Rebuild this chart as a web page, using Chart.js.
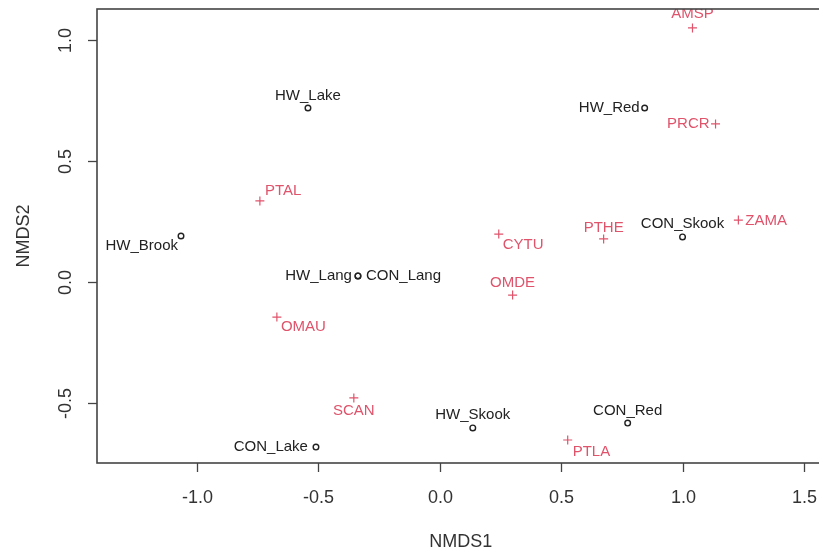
<!DOCTYPE html>
<html>
<head>
<meta charset="utf-8">
<title>NMDS ordination</title>
<script src="https://cdn.jsdelivr.net/npm/chart.js@4.4.1/dist/chart.umd.min.js"></script>
<style>
  html, body { margin: 0; padding: 0; background: #fff; overflow: hidden; }
  #wrap { position: relative; width: 830px; height: 554px; }
</style>
</head>
<body>
<div id="wrap"><canvas id="nmds"></canvas></div>
<script>
// ---------- Site scores (black "o") ----------
const siteNames = ["HW_Brook", "HW_Lake", "HW_Lang", "CON_Lang", "HW_Red", "CON_Skook", "HW_Skook", "CON_Red", "CON_Lake"];
const siteX = [-1.066, -0.543, -0.337, -0.337, 0.844, 1.000, 0.136, 0.774, -0.510];
const siteY = [0.190, 0.719, 0.025, 0.025, 0.719, 0.186, -0.603, -0.583, -0.682];

// ---------- Species scores (red "+") ----------
const speciesNames = ["AMSP", "PRCR", "PTAL", "PTHE", "ZAMA", "CYTU", "OMDE", "OMAU", "SCAN", "PTLA"];
const speciesX = [1.041, 1.136, -0.741, 0.675, 1.230, 0.243, 0.300, -0.671, -0.354, 0.527];
const speciesY = [1.050, 0.653, 0.335, 0.178, 0.256, 0.198, -0.054, -0.145, -0.479, -0.653];

// ---------- Axes ----------
const xTicks = [-1.0, -0.5, 0.0, 0.5, 1.0, 1.5];
const yTicks = [-0.5, 0.0, 0.5, 1.0];
const xTitle = "NMDS1";
const yTitle = "NMDS2";

// label placement around each point: [dx, dy, align]
const labelPlace = {
  HW_Brook: [-3, 10, "right"], HW_Lake: [0, -12, "center"], HW_Lang: [-6, 0, "right"],
  CON_Lang: [8, 0, "left"], HW_Red: [-5, 0, "right"], CON_Skook: [0, -13, "center"],
  HW_Skook: [0, -13, "center"], CON_Red: [0, -12, "center"], CON_Lake: [-8, 0, "right"],
  AMSP: [0, -14, "center"], PRCR: [-6, 0, "right"], PTAL: [5, -10, "left"],
  PTHE: [0, -11, "center"], ZAMA: [7, 1, "left"], CYTU: [4, 11, "left"],
  OMDE: [0, -12, "center"], OMAU: [4, 10, "left"], SCAN: [0, 13, "center"],
  PTLA: [5, 12, "left"],
};

const FONT = '"Liberation Sans", Arial, sans-serif';
const INK = "#222";
const PINK = "#DF536B";
const AXIS = "#444";

const toPoints = (xs, ys) => xs.map((x, i) => ({ x, y: ys[i] }));

// R-style frame, ticks, tick labels, titles and point labels
const rStyle = {
  id: "rStyle",
  afterDatasetsDraw(chart) {
    const { ctx, chartArea: a } = chart;
    ctx.save();
    ctx.beginPath();
    ctx.rect(a.left, a.top, a.right - a.left, a.bottom - a.top);
    ctx.clip();
    ctx.font = "15px " + FONT;
    ctx.textBaseline = "middle";
    chart.data.datasets.forEach((ds, di) => {
      const meta = chart.getDatasetMeta(di);
      ctx.fillStyle = ds.labelColor;
      meta.data.forEach((pt, i) => {
        const name = ds.names[i];
        const [dx, dy, align] = labelPlace[name] || [0, -12, "center"];
        ctx.textAlign = align;
        ctx.fillText(name, pt.x + dx, pt.y + dy);
      });
    });
    ctx.restore();
  },
  afterDraw(chart) {
    const { ctx, chartArea: a } = chart;
    const xs = chart.scales.x, ys = chart.scales.y;
    ctx.save();
    ctx.strokeStyle = AXIS;
    ctx.lineWidth = 1.6;
    ctx.strokeRect(a.left, a.top, a.right - a.left, a.bottom - a.top);

    ctx.lineWidth = 1.3;
    ctx.fillStyle = "#333";
    ctx.font = "18px " + FONT;
    ctx.textAlign = "center";
    ctx.textBaseline = "middle";
    xTicks.forEach((v) => {
      const px = Math.round(xs.getPixelForValue(v)) + 0.5;
      ctx.beginPath();
      ctx.moveTo(px, a.bottom);
      ctx.lineTo(px, a.bottom + 9);
      ctx.stroke();
      ctx.fillText(v.toFixed(1), px, a.bottom + 35);
    });
    yTicks.forEach((v) => {
      const py = Math.round(ys.getPixelForValue(v)) + 0.5;
      ctx.beginPath();
      ctx.moveTo(a.left, py);
      ctx.lineTo(a.left - 9, py);
      ctx.stroke();
      ctx.save();
      ctx.translate(a.left - 31, py);
      ctx.rotate(-Math.PI / 2);
      ctx.fillText(v.toFixed(1), 0, 0);
      ctx.restore();
    });

    ctx.fillText(xTitle, (a.left + a.right) / 2, a.bottom + 79);
    ctx.save();
    ctx.translate(24, (a.top + a.bottom) / 2);
    ctx.rotate(-Math.PI / 2);
    ctx.fillText(yTitle, 0, 0);
    ctx.restore();
    ctx.restore();
  },
};

new Chart(document.getElementById("nmds"), {
  type: "scatter",
  data: {
    datasets: [
      {
        label: "Sites",
        names: siteNames,
        labelColor: INK,
        data: toPoints(siteX, siteY),
        pointStyle: "circle",
        pointRadius: 2.8,
        borderWidth: 1.4,
        borderColor: INK,
        backgroundColor: "rgba(0,0,0,0)",
      },
      {
        label: "Species",
        names: speciesNames,
        labelColor: PINK,
        data: toPoints(speciesX, speciesY),
        pointStyle: "cross",
        pointRadius: 4.5,
        borderWidth: 1.2,
        borderColor: PINK,
        backgroundColor: PINK,
      },
    ],
  },
  options: {
    responsive: true,
    maintainAspectRatio: false,
    animation: false,
    events: [],
    layout: { padding: { top: 9, right: 5, left: 0, bottom: 0 } },
    plugins: { legend: { display: false }, tooltip: { enabled: false } },
    scales: {
      x: {
        type: "linear", min: -1.412, max: 1.584,
        ticks: { display: false }, grid: { display: false }, border: { display: false },
        afterFit: (s) => { s.height = 91; },
      },
      y: {
        type: "linear", min: -0.748, max: 1.128,
        ticks: { display: false }, grid: { display: false }, border: { display: false },
        afterFit: (s) => { s.width = 97; },
      },
    },
  },
  plugins: [rStyle],
});
</script>
</body>
</html>
